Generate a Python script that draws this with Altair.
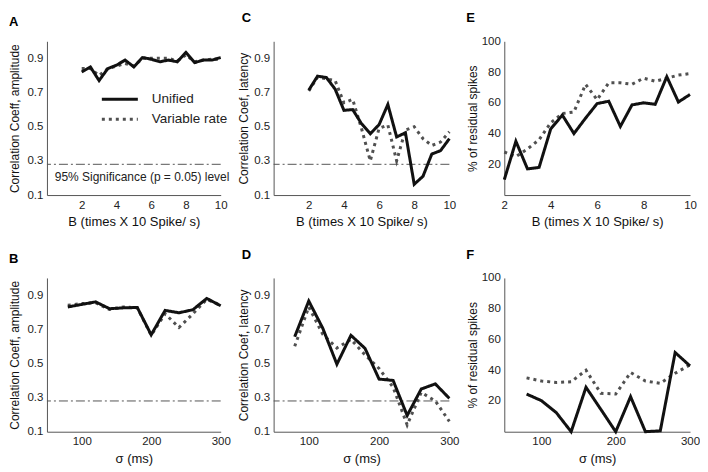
import altair as alt
import pandas as pd

FONT = "Liberation Sans"
SERIES = ["Unified", "Variable rate"]
COLORS = ["#111111", "#505050"]
DASHES = [[1, 0], [3, 4]]

B_X = [2, 2.5, 3, 3.5, 4, 4.5, 5, 5.5, 6, 6.5, 7, 7.5, 8, 8.5, 9, 9.5, 10]
SIGMA_X = [80, 100, 120, 140, 160, 180, 200, 220, 240, 260, 280, 300]

A_UNIFIED = [0.82, 0.85, 0.77, 0.84, 0.86, 0.89, 0.85, 0.905, 0.895, 0.88, 0.89, 0.88, 0.935, 0.875, 0.89, 0.89, 0.905]
A_VARIABLE = [0.84, 0.84, 0.80, 0.84, 0.855, 0.87, 0.855, 0.90, 0.90, 0.90, 0.90, 0.885, 0.92, 0.88, 0.89, 0.895, 0.895]

B_UNIFIED = [0.83, 0.845, 0.86, 0.82, 0.825, 0.827, 0.667, 0.81, 0.796, 0.814, 0.88, 0.837]
B_VARIABLE = [0.84, 0.85, 0.855, 0.815, 0.83, 0.825, 0.665, 0.79, 0.71, 0.79, 0.875, 0.84]

C_UNIFIED = [0.714, 0.796, 0.788, 0.72, 0.596, 0.60, 0.518, 0.459, 0.512, 0.63, 0.44, 0.465, 0.163, 0.21, 0.34, 0.36, 0.43]
C_VARIABLE = [0.71, 0.79, 0.78, 0.77, 0.64, 0.66, 0.49, 0.30, 0.49, 0.51, 0.30, 0.48, 0.50, 0.43, 0.39, 0.41, 0.47]

D_UNIFIED = [0.656, 0.865, 0.705, 0.495, 0.664, 0.588, 0.408, 0.40, 0.195, 0.35, 0.38, 0.295]
D_VARIABLE = [0.60, 0.83, 0.67, 0.59, 0.64, 0.55, 0.47, 0.36, 0.14, 0.33, 0.28, 0.16]

E_UNIFIED = [10, 35, 17, 18, 43, 52, 40, 50, 59.5, 61, 44.6, 58.6, 60, 59, 77, 60.5, 65.4]
E_VARIABLE = [28, 25, 30, 36, 47, 53, 54, 72, 62, 73, 73, 72, 76, 74, 76, 78, 79]

F_UNIFIED = [24.5, 20.2, 12.4, 0, 28.9, 14.5, 0, 22.8, 0, 0.6, 51.5, 42.8]
F_VARIABLE = [35, 33, 32, 32.5, 40, 25, 24.5, 38.5, 33, 31.5, 38, 43.5]

SIG_LEVEL = 0.28
SIG_LABEL = "95% Significance (p = 0.05) level"
SIG_LABEL_POS = (0.45, 0.205)

CORR_TICKS = [0.1, 0.3, 0.5, 0.7, 0.9]
PCT_TICKS = [20, 40, 60, 80, 100]
B_TICKS = [2, 4, 6, 8, 10]
SIGMA_TICKS = [100, 200, 300]

B_TITLE = "B (times X 10 Spike/ s)"
SIGMA_TITLE = "σ (ms)"


def panel(xs, uni, var, xdom, ydom, xticks, yticks, yfmt, ytitle, xtitle,
          letter, width, letter_dx=0, letter_dy=0, title_x=-25,
          legend=False, sig=False, sig_text=False):
    n = len(xs)
    df = pd.DataFrame({"x": list(xs) * 2, "value": list(uni) + list(var),
                       "series": ["Unified"] * n + ["Variable rate"] * n})
    leg = None
    if legend:
        leg = alt.Legend(orient="none", legendX=53, legendY=51, title=None,
                         symbolType="stroke", symbolSize=1300,
                         symbolStrokeWidth=3, labelFont=FONT,
                         labelFontSize=13.5, labelColor="#222",
                         clipHeight=14, rowPadding=6, labelOffset=12)
    xenc = alt.X("x:Q", scale=alt.Scale(domain=xdom, nice=False, zero=False),
                 axis=alt.Axis(values=xticks, title=xtitle, format="d",
                               labelFlush=False, labelOverlap=False,
                               labelPadding=4, titlePadding=5))
    yenc = alt.Y("value:Q", scale=alt.Scale(domain=ydom, nice=False, zero=False),
                 axis=alt.Axis(values=yticks, title=ytitle, format=yfmt,
                               labelFlush=False, labelOverlap=False,
                               labelPadding=4, titleX=title_x,
                               titleFontSize=12))
    color = alt.Color("series:N", scale=alt.Scale(domain=SERIES, range=COLORS), legend=leg)
    dash = alt.StrokeDash("series:N", scale=alt.Scale(domain=SERIES, range=DASHES), legend=leg)
    base = alt.Chart(df)
    layers = []
    if sig:
        rule = alt.Chart(pd.DataFrame({"value": [SIG_LEVEL]})).mark_rule(
            color="#555", strokeWidth=1, strokeDash=[9, 3, 2, 3]
        ).encode(y=yenc)
        layers.append(rule)
    for s in ["Variable rate", "Unified"]:
        layers.append(
            base.transform_filter(alt.datum.series == s).mark_line(
                strokeWidth=3, strokeCap="butt", strokeJoin="miter"
            ).encode(x=xenc, y=yenc, color=color, strokeDash=dash)
        )
    if sig_text:
        tdf = pd.DataFrame({"x": [SIG_LABEL_POS[0]], "value": [SIG_LABEL_POS[1]],
                            "label": [SIG_LABEL]})
        layers.append(
            alt.Chart(tdf).mark_text(align="left", baseline="middle", font=FONT,
                                     fontSize=12, color="#222").encode(
                x=xenc, y=yenc, text="label:N")
        )
    return alt.layer(*layers).properties(
        width=width, height=154,
        title=alt.TitleParams(letter, anchor="start", dx=letter_dx, dy=letter_dy),
    )


pA = panel(B_X, A_UNIFIED, A_VARIABLE, [0, 10], [0.1, 1.0], B_TICKS, CORR_TICKS, ".1f",
           "Correlation Coeff, amplitude", B_TITLE, "A", 174, 0, 0,
           legend=True, sig=True, sig_text=True)
pC = panel(B_X, C_UNIFIED, C_VARIABLE, [0, 10], [0.1, 1.0], B_TICKS, CORR_TICKS, ".1f",
           "Correlation Coef, latency", B_TITLE, "C", 176, 4, -4, title_x=-23, sig=True)
pE = panel(B_X, E_UNIFIED, E_VARIABLE, [2, 10], [0, 100], B_TICKS, PCT_TICKS, "d",
           "% of residual spikes", B_TITLE, "E", 186, 0, 2)
pB = panel(SIGMA_X, B_UNIFIED, B_VARIABLE, [50, 300], [0.1, 1.0], SIGMA_TICKS, CORR_TICKS, ".1f",
           "Correlation Coeff, amplitude", SIGMA_TITLE, "B", 174, 0, 0, sig=True)
pD = panel(SIGMA_X, D_UNIFIED, D_VARIABLE, [50, 300], [0.1, 1.0], SIGMA_TICKS, CORR_TICKS, ".1f",
           "Correlation Coef, latency", SIGMA_TITLE, "D", 176, 4, -4, title_x=-23, sig=True)
pF = panel(SIGMA_X, F_UNIFIED, F_VARIABLE, [50, 300], [0, 100], SIGMA_TICKS, PCT_TICKS, "d",
           "% of residual spikes", SIGMA_TITLE, "F", 186, 0, 2)

chart = alt.concat(
    pA, pC, pE, pB, pD, pF, columns=3, align="each",
    spacing=alt.RowColnumber(row=20, column=6),
).resolve_legend(color="independent", strokeDash="independent").properties(
    padding={"top": 4, "left": 0, "right": 0, "bottom": 0}
).configure_view(stroke=None).configure_axis(
    domainColor="#555", domainWidth=1, ticks=False, grid=False,
    labelFont=FONT, labelFontSize=11.5, labelColor="#222",
    titleFont=FONT, titleFontSize=13, titleFontWeight="normal", titleColor="#111",
).configure_title(
    font=FONT, fontSize=13, fontWeight="bold", anchor="start", color="#000", offset=12
)

chart.save("out.html", embed_options={"renderer": "svg", "actions": False})
